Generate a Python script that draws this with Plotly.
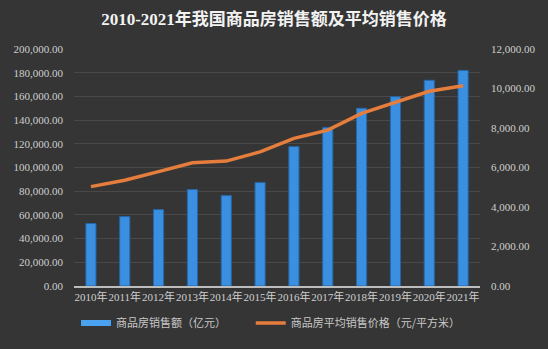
import plotly.graph_objects as go

years = ["2010年", "2011年", "2012年", "2013年", "2014年", "2015年",
         "2016年", "2017年", "2018年", "2019年", "2020年", "2021年"]
sales = [52721, 58589, 64456, 81428, 76292, 87281,
         117627, 133701, 149973, 159725, 173613, 181930]
price = [5032, 5357, 5791, 6237, 6324, 6793,
         7476, 7892, 8737, 9310, 9860, 10139]
left_ticks = [0, 20000, 40000, 60000, 80000, 100000, 120000, 140000, 160000, 180000, 200000]
right_ticks = [0, 2000, 4000, 6000, 8000, 10000, 12000]
sales_name = "商品房销售额（亿元）"
price_name = "商品房平均销售价格（元/平方米）"

serif = "Liberation Serif, Noto Sans CJK SC, serif"
tick_color = "#cfcfcf"
bar_color = "#3b8fe0"

fig = go.Figure()
fig.add_trace(go.Bar(
    x=years, y=sales, name=sales_name, showlegend=False, legendgroup="s",
    width=0.3,
    marker=dict(color=bar_color, line=dict(color="#2466a8", width=1)),
))
# legend entry for the bars (wide bar-like symbol)
fig.add_trace(go.Scatter(
    x=[None], y=[None], name=sales_name + "&nbsp;" * 8, legendgroup="s", mode="lines",
    line=dict(color="#4aa3f0", width=6),
))
fig.add_trace(go.Scatter(
    x=years, y=price, name=price_name,
    yaxis="y2", mode="lines",
    line=dict(color="#e57d3c", width=3.5),
))

fig.update_layout(
    width=548, height=349,
    margin=dict(l=74, r=68, t=49, b=55),
    paper_bgcolor="#353535",
    plot_bgcolor="rgba(0,0,0,0)",
    title=dict(
        text="<b>2010-2021年我国商品房销售额及平均销售价格</b>",
        x=0.5, xanchor="center", y=0.945, yanchor="middle",
        font=dict(family="Liberation Serif, Noto Sans CJK SC, serif", size=17, color="#f2f2f2"),
    ),
    showlegend=True,
    legend=dict(
        orientation="h", x=0.005, xanchor="left", y=-0.095, yanchor="top",
        font=dict(family="Noto Sans CJK SC, sans-serif", size=11, color="#c8c8c8"),
        bgcolor="rgba(0,0,0,0)", itemwidth=30,
    ),
    xaxis=dict(
        tickfont=dict(family=serif, size=11, color=tick_color),
        showline=True, linecolor="#bdbdbd", linewidth=1.5,
        showgrid=False, ticks="", tickangle=0,
    ),
    yaxis=dict(
        range=[0, 200000], tickvals=left_ticks, tickformat=",.2f",
        tickfont=dict(family=serif, size=11, color=tick_color),
        showgrid=True, gridcolor="rgba(255,255,255,0.10)", gridwidth=1,
        zeroline=False, showline=False, ticks="", ticklabelstandoff=10,
    ),
    yaxis2=dict(
        range=[0, 12000], tickvals=right_ticks, tickformat=",.2f",
        overlaying="y", side="right",
        tickfont=dict(family=serif, size=11, color=tick_color),
        showgrid=False, zeroline=False, showline=False, ticks="", ticklabelstandoff=10,
    ),
    bargap=0.7,
)

fig.write_html("out.html")
